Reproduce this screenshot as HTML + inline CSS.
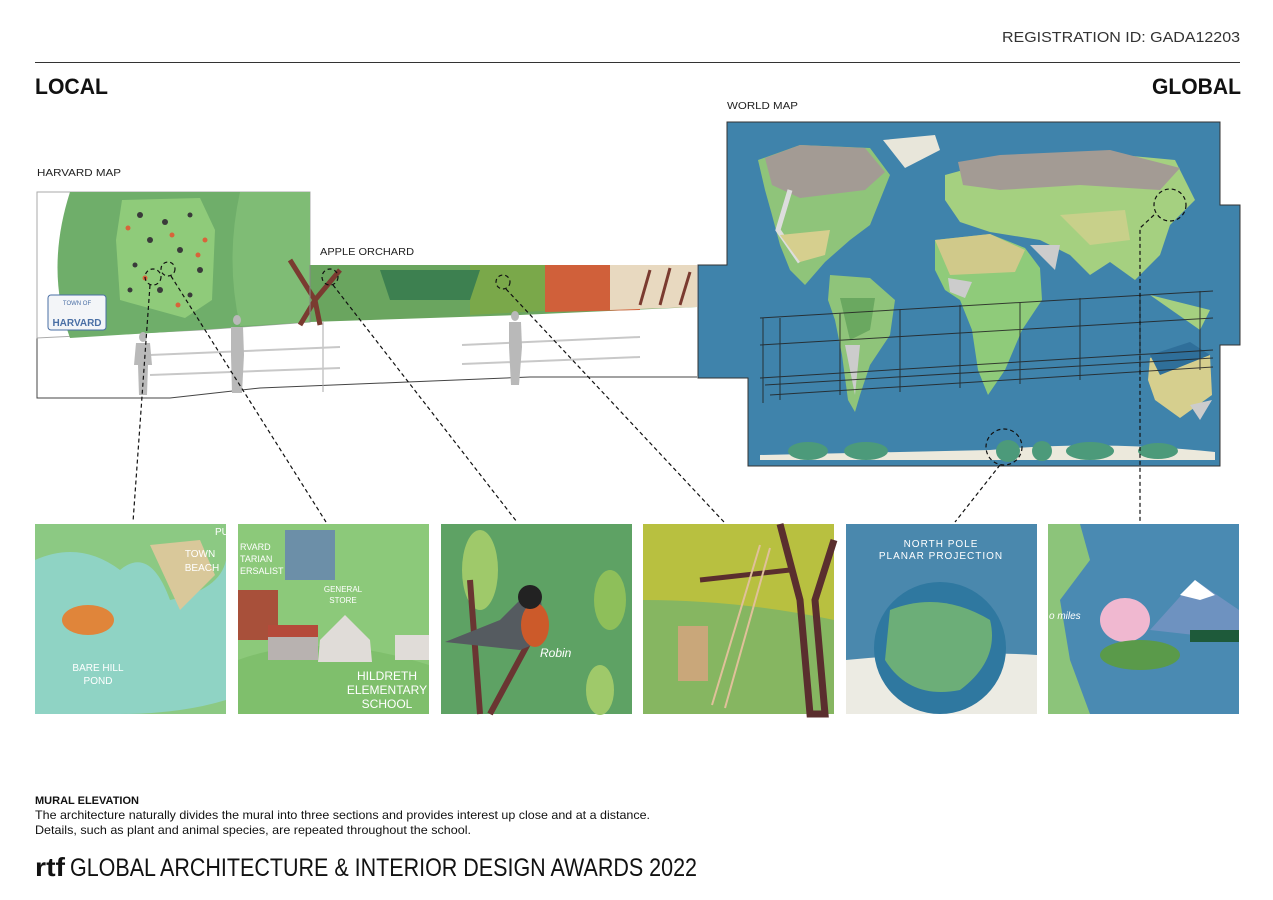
<!DOCTYPE html>
<html><head><meta charset="utf-8"><style>
html,body{margin:0;padding:0;background:#fff}
svg{display:block}
text{font-family:"Liberation Sans",sans-serif}
</style></head><body>
<svg width="1273" height="900" viewBox="0 0 1273 900" xmlns="http://www.w3.org/2000/svg">
<text x="1240" y="42" font-size="15" fill="#333" text-anchor="end" textLength="238" lengthAdjust="spacingAndGlyphs">REGISTRATION ID: GADA12203</text>
<line x1="35" y1="62.5" x2="1240" y2="62.5" stroke="#333" stroke-width="1"/>
<text x="35" y="94" font-size="22" font-weight="bold" fill="#111" textLength="73" lengthAdjust="spacingAndGlyphs">LOCAL</text>
<text x="1241" y="94" font-size="22" font-weight="bold" fill="#111" text-anchor="end" textLength="89" lengthAdjust="spacingAndGlyphs">GLOBAL</text>
<text x="727" y="109" font-size="10.5" fill="#222" textLength="71" lengthAdjust="spacingAndGlyphs">WORLD MAP</text>
<text x="37" y="176" font-size="10.5" fill="#222" textLength="84" lengthAdjust="spacingAndGlyphs">HARVARD MAP</text>
<text x="320" y="255" font-size="10.5" fill="#222" textLength="94" lengthAdjust="spacingAndGlyphs">APPLE ORCHARD</text>

<path d="M37 338 L37 398 L170 398 L260 388 L530 377 L697 377" fill="#fff" stroke="#444" stroke-width="1"/>
<line x1="323" y1="322" x2="323" y2="392" stroke="#aaa"/>
<path d="M37 192 L310 192 L310 322 L200 330 L37 338 Z" fill="#fff" stroke="#aaa"/>
<path d="M70 192 L310 192 L310 322 L200 330 L70 338 Q45 270 70 192 Z" fill="#6fae6a"/>
<path d="M240 192 L310 192 L310 322 L240 326 Q225 260 240 192Z" fill="#7fbc75"/>
<path d="M122 200 L200 198 L215 230 L212 300 L185 318 L120 300 L116 240 Z" fill="#8fcb7a"/>
<g fill="#3a3a3a">
<circle cx="140" cy="215" r="3"/><circle cx="165" cy="222" r="3"/><circle cx="190" cy="215" r="2.5"/><circle cx="150" cy="240" r="3"/><circle cx="180" cy="250" r="3"/><circle cx="135" cy="265" r="2.5"/><circle cx="200" cy="270" r="3"/><circle cx="160" cy="290" r="3"/><circle cx="190" cy="295" r="2.5"/><circle cx="130" cy="290" r="2.5"/></g>
<g fill="#d8643a"><circle cx="128" cy="228" r="2.5"/><circle cx="172" cy="235" r="2.5"/><circle cx="205" cy="240" r="2.5"/><circle cx="145" cy="278" r="2.5"/><circle cx="178" cy="305" r="2.5"/><circle cx="198" cy="255" r="2.5"/></g>
<rect x="48" y="295" width="58" height="35" rx="3" fill="#f3f5f8" stroke="#4a6fa5"/>
<text x="77" y="305" font-size="6" fill="#4a6fa5" text-anchor="middle">TOWN OF</text>
<text x="77" y="326" font-size="10" font-weight="bold" fill="#4a6fa5" text-anchor="middle">HARVARD</text>
<path d="M310 265 L697 265 L697 307 L520 315 L310 322 Z" fill="#6aa55f"/>
<path d="M470 265 L560 265 L560 310 L470 315Z" fill="#7aa84a"/>
<path d="M545 265 L640 265 L640 310 L545 312Z" fill="#d0603a"/>
<path d="M610 265 L697 265 L697 307 L610 310Z" fill="#e8d9c0"/>
<path d="M380 270 L480 270 L470 300 L390 300Z" fill="#3d8050"/>
<path d="M300 325 L315 300 L290 260 M315 300 L340 270 M315 300 L320 325" stroke="#7a3b30" stroke-width="5" fill="none"/>
<path d="M640 305 L650 270 M660 305 L670 268 M680 305 L690 272" stroke="#7a3b30" stroke-width="3" fill="none"/>
<path d="M310 265 L310 322" stroke="#888"/>
<g stroke="#c8c8c8" stroke-width="2" fill="none">
<path d="M150 355 L340 347"/><path d="M150 375 L340 368"/>
<path d="M462 345 L640 337"/><path d="M462 364 L640 357"/></g>
<g fill="#b9b9b9">
<ellipse cx="143" cy="337" rx="4" ry="5"/><path d="M136 343 h14 l2 22 h-4 l-1 30 h-8 l-1 -30 h-4z"/>
<ellipse cx="237" cy="320" rx="4" ry="5"/><path d="M231 327 h12 l1 28 l-2 38 h-10 l-1 -38z"/>
<ellipse cx="515" cy="316" rx="4" ry="5"/><path d="M509 322 h12 l1 25 l-3 38 h-8 l-2 -38z"/></g>

<path d="M727 122 L1220 122 L1220 205 L1240 205 L1240 345 L1220 345 L1220 466 L748 466 L748 378 L698 378 L698 265 L727 265 Z" fill="#3f83ab" stroke="#333" stroke-width="1"/>
<!-- North America -->
<path d="M758 160 L800 145 L870 148 L890 175 L880 200 L870 225 L850 240 L825 262 L805 285 L790 270 L780 245 L772 215 L765 190 Z" fill="#8fc47a"/>
<path d="M765 158 L800 145 L865 148 L885 172 L865 190 L800 198 L772 185Z" fill="#a39b94"/>
<path d="M790 190 L778 230 L800 262" stroke="#ddd" stroke-width="5" fill="none"/>
<path d="M780 235 L830 230 L825 255 L800 262Z" fill="#d6cf8e"/>
<path d="M883 140 L935 135 L940 150 L905 168Z" fill="#e8e6da"/>
<!-- South America -->
<path d="M830 275 L870 278 L895 300 L890 335 L870 365 L860 395 L855 412 L848 400 L842 355 L835 320 L828 300Z" fill="#8fc47a"/>
<path d="M840 298 L875 298 L870 330 L850 340Z" fill="#6aa860"/>
<path d="M845 345 L860 345 L855 395Z" fill="#ccc"/>
<!-- Eurasia -->
<path d="M945 175 L1000 160 L1090 152 L1175 160 L1195 200 L1170 225 L1160 255 L1135 280 L1110 262 L1090 275 L1070 255 L1040 240 L990 232 L960 222 L945 200Z" fill="#a5d080"/>
<path d="M958 162 L1000 155 L1110 150 L1180 168 L1160 190 L1080 185 L1000 190 L963 185Z" fill="#a39b94"/>
<path d="M1060 215 L1125 210 L1130 240 L1090 245Z" fill="#c8d08a"/>
<path d="M1030 245 L1060 245 L1055 270Z" fill="#ccc"/>
<!-- Africa -->
<path d="M935 240 L990 234 L1025 248 L1040 268 L1042 300 L1022 330 L1005 370 L988 395 L978 370 L972 330 L960 300 L945 290 L935 270Z" fill="#8fcb7a"/>
<path d="M935 240 L990 234 L1025 250 L1015 272 L950 275Z" fill="#d0c98a"/>
<path d="M948 278 L972 282 L965 298 L950 292Z" fill="#ccc"/>
<path d="M1150 295 L1210 310 L1200 330Z" fill="#a5d080"/>
<!-- Australia -->
<path d="M1150 358 L1185 345 L1210 355 L1212 395 L1180 418 L1155 400 L1148 380Z" fill="#d6cf8e"/>
<path d="M1150 355 L1190 342 L1210 355 L1160 375Z" fill="#2f6f9a"/>
<path d="M1190 405 L1212 400 L1200 420Z" fill="#ccc"/>
<path d="M760 460 L1215 460 L1215 452 Q1100 440 990 450 L760 455Z" fill="#ece9dc"/>
<g fill="#4c9a7a"><ellipse cx="808" cy="451" rx="20" ry="9"/><ellipse cx="866" cy="451" rx="22" ry="9"/><ellipse cx="1008" cy="451" rx="12" ry="11"/><ellipse cx="1042" cy="451" rx="10" ry="10"/><ellipse cx="1090" cy="451" rx="24" ry="9"/><ellipse cx="1158" cy="451" rx="20" ry="8"/></g>
<g stroke="#222" stroke-width="1" fill="none" opacity=".85">
<path d="M760 318 L1213 291"/><path d="M760 345 L1213 318"/><path d="M760 378 L1213 350"/><path d="M770 395 L1213 367"/><path d="M765 385 L1213 358"/>
<path d="M763 318 L763 403"/><path d="M780 318 L780 400"/><path d="M840 313 L840 395"/><path d="M900 309 L900 392"/><path d="M960 305 L960 388"/><path d="M1020 302 L1020 384"/><path d="M1080 298 L1080 380"/><path d="M1140 294 L1140 375"/><path d="M1200 291 L1200 370"/></g>
<g stroke="#111" stroke-width="1.2" fill="none" stroke-dasharray="4 3">
<circle cx="153" cy="277" r="8"/><circle cx="168" cy="269" r="7"/><circle cx="330" cy="277" r="8"/><circle cx="503" cy="282" r="7"/><circle cx="1004" cy="447" r="18"/><circle cx="1170" cy="205" r="16"/>
<path d="M150 285 L133 522"/><path d="M171 276 L326 522"/><path d="M333 285 L517 522"/><path d="M506 289 L724 522"/><path d="M1000 465 L955 522"/><path d="M1154 215 L1140 228 L1140 522"/></g>

<rect x="35" y="524" width="191" height="190" fill="#8cc983"/>
<path d="M35 560 Q80 540 120 570 Q150 545 170 600 Q220 590 226 560 L226 700 Q180 714 120 714 L35 714Z" fill="#8fd3c4"/>
<path d="M150 545 L200 540 L215 575 L180 610Z" fill="#d9c89a"/>
<ellipse cx="88" cy="620" rx="26" ry="15" fill="#e0853a"/>
<text x="200" y="557" font-size="10" fill="#fff" text-anchor="middle">TOWN</text><text x="202" y="571" font-size="10" fill="#fff" text-anchor="middle">BEACH</text>
<text x="215" y="535" font-size="10" fill="#fff">PUB</text>
<text x="98" y="671" font-size="10" fill="#fff" text-anchor="middle">BARE HILL</text><text x="98" y="684" font-size="10" fill="#fff" text-anchor="middle">POND</text>
<rect x="238" y="524" width="191" height="190" fill="#8cc97a"/>
<path d="M238 660 Q320 630 429 665 L429 714 L238 714Z" fill="#7fbf6c"/>
<rect x="285" y="530" width="50" height="50" fill="#6c8fa8"/>
<rect x="238" y="590" width="40" height="50" fill="#a8503a"/>
<rect x="268" y="625" width="50" height="35" fill="#b8b2b0"/><rect x="268" y="625" width="50" height="12" fill="#b54a3a"/>
<path d="M318 662 L320 640 L345 615 L370 640 L372 662Z" fill="#e0dcd8"/>
<rect x="395" y="635" width="34" height="25" fill="#e0dcd8"/>
<text x="240" y="550" font-size="9" fill="#fff">RVARD</text><text x="240" y="562" font-size="9" fill="#fff">TARIAN</text><text x="240" y="574" font-size="9" fill="#fff">ERSALIST</text>
<text x="343" y="592" font-size="8" fill="#fff" text-anchor="middle">GENERAL</text><text x="343" y="603" font-size="8" fill="#fff" text-anchor="middle">STORE</text>
<text x="387" y="680" font-size="12" fill="#fff" text-anchor="middle">HILDRETH</text><text x="387" y="694" font-size="12" fill="#fff" text-anchor="middle">ELEMENTARY</text><text x="387" y="708" font-size="12" fill="#fff" text-anchor="middle">SCHOOL</text>
<rect x="441" y="524" width="191" height="190" fill="#5ea264"/>
<ellipse cx="480" cy="570" rx="18" ry="40" fill="#9fc96a"/><ellipse cx="610" cy="600" rx="16" ry="30" fill="#8ebf5a"/><ellipse cx="600" cy="690" rx="14" ry="25" fill="#9fc96a"/>
<path d="M480 714 L470 580 M490 714 L530 640" stroke="#6a3532" stroke-width="6"/>
<path d="M445 642 L500 620 L520 600 L540 590 L545 640 L520 650 Z" fill="#555b60"/>
<ellipse cx="535" cy="625" rx="14" ry="22" fill="#cc5a2a"/>
<circle cx="530" cy="597" r="12" fill="#222"/>
<text x="540" y="657" font-size="12" font-style="italic" fill="#fff" font-family="Liberation Serif,serif">Robin</text>
<rect x="643" y="524" width="191" height="190" fill="#86b661"/>
<path d="M643 524 L834 524 L834 620 Q740 600 643 600Z" fill="#b8c040"/>
<path d="M780 524 L800 600 L810 714 L825 714 L815 600 L834 540" stroke="#5a2e2e" stroke-width="7" fill="none"/>
<path d="M700 580 L790 570" stroke="#5a2e2e" stroke-width="5"/>
<rect x="678" y="626" width="30" height="55" fill="#c9a77a"/>
<path d="M712 705 L760 545 M725 708 L770 548" stroke="#e0c09a" stroke-width="2"/>
<rect x="846" y="524" width="191" height="190" fill="#4a88ad"/>
<path d="M846 660 Q950 650 1037 655 L1037 714 L846 714Z" fill="#ecebe3"/>
<ellipse cx="940" cy="648" rx="66" ry="66" fill="#2f78a0"/>
<path d="M890 610 Q940 590 990 620 Q1000 660 960 690 Q910 700 885 660Z" fill="#6cae78"/>
<text x="941" y="547" font-size="10" fill="#fff" text-anchor="middle" letter-spacing="1">NORTH POLE</text>
<text x="941" y="559" font-size="10" fill="#fff" text-anchor="middle" letter-spacing="1">PLANAR PROJECTION</text>
<rect x="1048" y="524" width="191" height="190" fill="#4a8ab2"/>
<path d="M1048 524 L1080 524 L1090 560 L1060 600 L1070 660 L1090 714 L1048 714Z" fill="#8cc47a"/>
<path d="M1150 630 L1195 580 L1239 610 L1239 640 Z" fill="#6e92c0"/>
<path d="M1180 595 L1195 580 L1215 595 L1200 600Z" fill="#fff"/>
<rect x="1190" y="630" width="49" height="12" fill="#1e5a3a"/>
<ellipse cx="1125" cy="620" rx="25" ry="22" fill="#f0b8d0"/>
<ellipse cx="1140" cy="655" rx="40" ry="15" fill="#5a9a4a"/>
<text x="1049" y="619" font-size="10" font-style="italic" fill="#fff" font-family="Liberation Serif,serif">o miles</text>

<text x="35" y="804" font-size="11" font-weight="bold" fill="#111" textLength="104" lengthAdjust="spacingAndGlyphs">MURAL ELEVATION</text>
<text x="35" y="819" font-size="12" fill="#111" textLength="615" lengthAdjust="spacingAndGlyphs">The architecture naturally divides the mural into three sections and provides interest up close and at a distance.</text>
<text x="35" y="834" font-size="12" fill="#111" textLength="436" lengthAdjust="spacingAndGlyphs">Details, such as plant and animal species, are repeated throughout the school.</text>
<text x="35" y="876" font-size="26" font-weight="bold" fill="#111" textLength="30" lengthAdjust="spacingAndGlyphs">rtf</text>
<text x="70" y="876" font-size="25" fill="#111" textLength="627" lengthAdjust="spacingAndGlyphs">GLOBAL ARCHITECTURE &amp; INTERIOR DESIGN AWARDS 2022</text>
</svg>
</body></html>
